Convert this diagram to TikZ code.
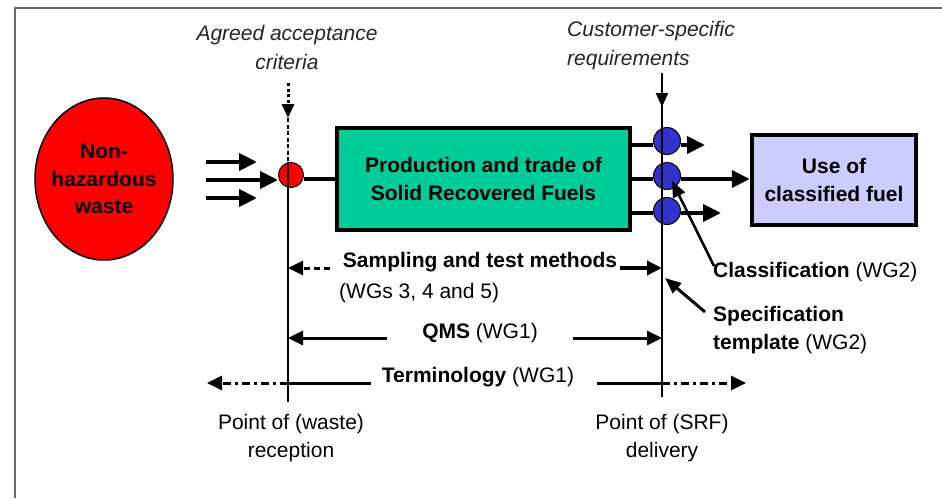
\documentclass[tikz,border=0pt]{standalone}
\usepackage{fontspec}
\setmainfont{Liberation Sans}
\usetikzlibrary{arrows.meta,shapes.geometric}
\definecolor{srfgreen}{HTML}{00CC99}
\definecolor{usefill}{HTML}{CCCCFF}
\definecolor{bluedot}{HTML}{3333CC}
\definecolor{framegray}{HTML}{6E675F}
\begin{document}
\begin{tikzpicture}[x=1pt,y=-1pt,
  txt/.style={font=\fontsize{21}{28}\selectfont, inner sep=0pt},
  btxt/.style={font=\fontsize{21}{27.5}\selectfont\bfseries},
  itxt/.style={font=\fontsize{21}{29}\selectfont\itshape, inner sep=0pt, text=black!85},
  bighead/.style={-{Triangle[length=18pt,width=17pt]}},
  midhead/.style={-{Triangle[length=15pt,width=14pt]}},
  thickline/.style={line width=4pt},
  dimline/.style={line width=3pt},
  dashdot/.style={line width=3pt, dash pattern=on 8pt off 4pt on 3pt off 4pt},
  dot/.style={circle, draw, line width=1pt, inner sep=0pt}
]
\useasboundingbox (0,0) rectangle (942,498);
\fill[white] (0,0) rectangle (942,498);

% frame
\coordinate (fTL) at (15,8);
\coordinate (fTR) at (942,8);
\coordinate (fBL) at (15,498);
\draw[framegray, line width=2pt] (fTR) -- (fTL) -- (fBL);

% main nodes
\node[ellipse, draw, fill=red, line width=1.5pt, minimum width=138pt, minimum height=162pt,
      inner sep=0pt] (waste) at (104,179) {};
\node[btxt, align=center] (wastetxt) at (waste.center) {Non-\\hazardous\\waste};
\node[dot, fill=red, minimum size=25pt] (rc) at (291,175) {};
\node[draw, fill=srfgreen, line width=4pt, minimum width=293pt, minimum height=102pt,
      align=center, btxt] (srf) at (483.5,179) {Production and trade of\\Solid Recovered Fuels};
\node[draw, fill=usefill, line width=4.5pt, minimum width=164pt, minimum height=90pt,
      align=center, btxt] (use) at (834,180) {Use of\\classified fuel};
\node[dot, fill=bluedot, minimum size=27pt] (b1) at (667,141) {};
\node[dot, fill=bluedot, minimum size=27pt] (b2) at (667,176) {};
\node[dot, fill=bluedot, minimum size=27pt] (b3) at (667,211) {};

% input arrows
\coordinate (in1) at (206,162);
\coordinate (in1e) at (257,162);
\coordinate (in2) at (206,180);
\coordinate (in3) at (206,198);
\coordinate (in3e) at (257,198);
\draw[thickline, bighead] (in1) -- (in1e);
\draw[thickline, bighead] (in2) -- (in2 -| rc.west);
\draw[thickline, bighead] (in3) -- (in3e);

% circle to box
\draw[thickline] (rc.east |- srf.west) -- (srf.west);

% box to blue dots and outputs
\coordinate (o1) at (705,145);
\coordinate (o3) at (721,213);
\draw[thickline] (srf.east |- o1) -- (b1.west |- o1);
\draw[thickline] (srf.east) -- (b2.west |- srf.east);
\draw[thickline] (srf.east |- o3) -- (b3.west |- o3);
\draw[thickline, bighead] (b1.east |- o1) -- (o1);
\draw[thickline, bighead] (b2.east |- srf.east) -- (use.west |- srf.east);
\draw[thickline, bighead] (b3.east |- o3) -- (o3);

% left vertical line (point of waste reception)
\coordinate (ltop) at (288,83);
\coordinate (lhead) at (288,118);
\coordinate (lcir) at (288,162);
\coordinate (lbot) at (288,402);
\draw[line width=3pt, dash pattern=on 3pt off 2.5pt, -{Triangle[length=14pt,width=12pt]}] (ltop) -- (lhead);
\draw[line width=1.3pt, dash pattern=on 4pt off 2.5pt] (lhead) -- (lcir);
\draw[line width=1.8pt] (lcir) -- (lbot);

% right vertical line (point of SRF delivery)
\coordinate (crtop) at (662,73);
\coordinate (crhead) at (662,107);
\coordinate (rbot) at (662,397);
\draw[line width=2.2pt] (crtop) -- (rbot);
\draw[line width=2.2pt, -{Triangle[length=14pt,width=12pt]}] (crtop) -- (crhead);

% top labels
\node[itxt, align=center] (agreed) at (287,47) {Agreed acceptance\\criteria};
\node[itxt, align=left, anchor=west] (cust) at (567,46) {Customer-specific\\requirements};

% classification / specification
\node[txt, anchor=west] (cls) at (713,272) {\textbf{Classification} (WG2)};
\node[txt, anchor=west, align=left] (spec) at (713,330) {\textbf{Specification}\\\textbf{template} (WG2)};
\coordinate (clsTail) at (714,266);
\coordinate (clsTip) at (672,181);
\coordinate (specTail) at (705,312);
\coordinate (specTip) at (665,278);
\draw[line width=2.6pt, -{Triangle[length=16pt,width=13pt]}] (clsTail) -- (clsTip);
\draw[line width=3pt, -{Triangle[length=16pt,width=13pt]}] (specTail) -- (specTip);

% sampling row
\node[txt, font=\fontsize{21}{28}\selectfont\bfseries] (samp) at (480,262) {Sampling and test methods};
\node[txt, anchor=west] (wgs) at (339,293) {(WGs 3, 4 and 5)};
\coordinate (sL) at (288,268);
\coordinate (sLd) at (330,268);
\coordinate (sRs) at (620,268);
\coordinate (sR) at (662,268);
\draw[dimline, dash pattern=on 6pt off 4pt, midhead] (sLd) -- (sL);
\draw[line width=3.5pt, midhead] (sRs) -- (sR);

% QMS row
\node[txt] (qms) at (480,333) {\textbf{QMS} (WG1)};
\coordinate (qL) at (288,338);
\coordinate (qLs) at (387,338);
\coordinate (qRs) at (573,338);
\coordinate (qR) at (662,338);
\draw[dimline, midhead] (qLs) -- (qL);
\draw[dimline, midhead] (qRs) -- (qR);

% Terminology row
\node[txt] (term) at (478,377) {\textbf{Terminology} (WG1)};
\coordinate (tL) at (207,383);
\coordinate (tLx) at (288,383);
\coordinate (tLs) at (371,383);
\coordinate (tRs) at (597,383);
\coordinate (tRx) at (662,383);
\coordinate (tR) at (746,383);
\draw[dimline] (tLs) -- (tLx);
\draw[dashdot, midhead] (tLx) -- (tL);
\draw[dimline] (tRs) -- (tRx);
\draw[dashdot, midhead] (tRx) -- (tR);

% bottom labels
\node[txt, align=center] (prec) at (291,438) {Point of (waste)\\reception};
\node[txt, align=center] (pdel) at (662,438) {Point of (SRF)\\delivery};
\end{tikzpicture}
\end{document}
